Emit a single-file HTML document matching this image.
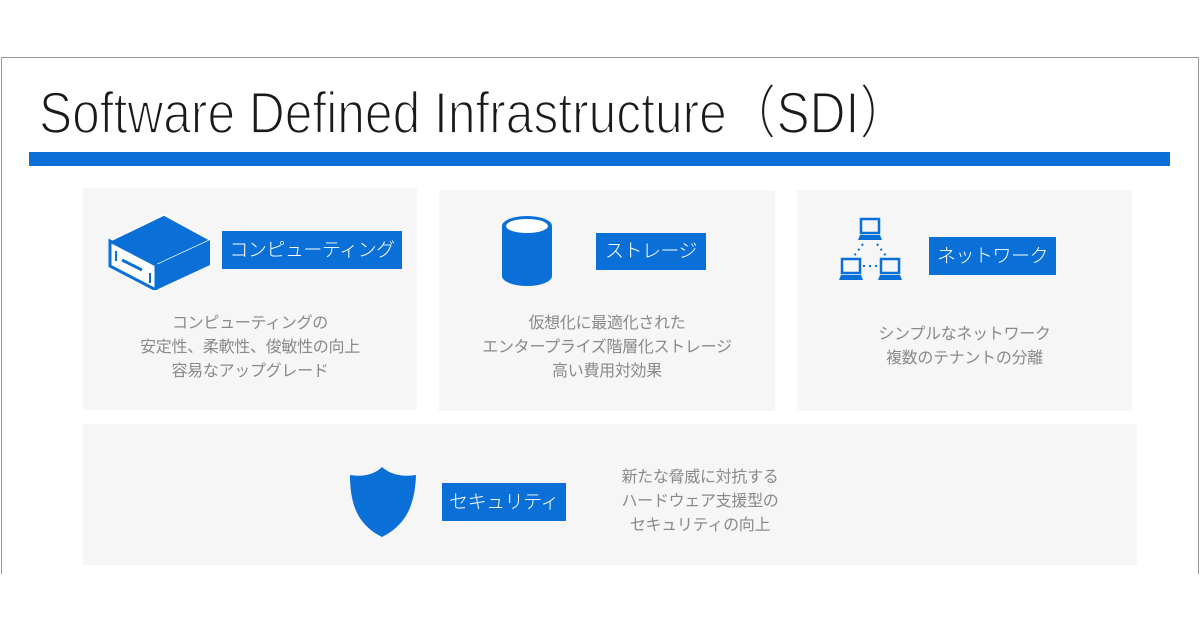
<!DOCTYPE html>
<html><head><meta charset="utf-8">
<style>
*{margin:0;padding:0;box-sizing:border-box}
body{width:1200px;height:630px;background:#fff;position:relative;overflow:hidden;font-family:"Liberation Sans","Noto Sans CJK JP",sans-serif}
.frame{position:absolute;left:1px;top:57px;width:1198px;height:517px;border:1px solid #9a9a9a;border-bottom:none;background:#fff}
.bar{position:absolute;left:29px;top:152px;width:1141px;height:14px;background:#0a6fd6}
.card{position:absolute;background:#f6f6f6}
.lab{position:absolute;background:#0a6fd6;color:#fff;font-size:19px;letter-spacing:-0.5px;line-height:1;display:flex;align-items:center;justify-content:center;white-space:nowrap;font-weight:300}
.desc{position:absolute;color:#8a8a8a;font-size:16px;letter-spacing:-0.3px;line-height:24px;text-align:center;white-space:nowrap}
svg{position:absolute}
</style></head><body>
<div class="frame"></div>
<svg style="left:0;top:60px" width="1200" height="90"><text x="39" y="73" font-family="Liberation Sans, Noto Sans CJK JP, sans-serif" font-size="58" fill="#1a1a1a" textLength="870" lengthAdjust="spacingAndGlyphs" stroke="#fff" stroke-width="1.8">Software Defined Infrastructure（SDI）</text></svg>
<div class="bar"></div>

<div class="card" style="left:83px;top:188px;width:334px;height:222px"></div>
<div class="card" style="left:439px;top:190px;width:336px;height:221px"></div>
<div class="card" style="left:797px;top:190px;width:335px;height:221px"></div>
<div class="card" style="left:83px;top:424px;width:1054px;height:141px"></div>

<svg style="left:106px;top:212px" width="106" height="78" viewBox="0 0 106 78">
<polygon points="4,29 58,3 104,28 50,53" fill="#0a6fd6" stroke="#fff" stroke-width="1.5"/>
<polygon points="50,53 104,28 104,53 50,78" fill="#0a6fd6"/>
<polygon points="4,29 50,53 50,78 4,54" fill="#fff" stroke="#0a6fd6" stroke-width="3"/>
<line x1="16" y1="48" x2="36" y2="58" stroke="#0a6fd6" stroke-width="3"/>
<path d="M10,39 v10 M44,61 v10" stroke="#0a6fd6" stroke-width="2" fill="none"/>
</svg>
<div class="lab" style="left:222px;top:231px;width:180px;height:38px">コンピューティング</div>
<div class="desc" style="left:83px;top:312px;width:334px">コンピューティングの<br>安定性、柔軟性、俊敏性の向上<br>容易なアップグレード</div>

<svg style="left:500px;top:214px" width="54" height="74" viewBox="0 0 54 74">
<path d="M2,12 A25,10 0 0 1 52,12 V62 A25,10 0 0 1 2,62 Z" fill="#0a6fd6"/>
<ellipse cx="27" cy="12" rx="21" ry="7" fill="#fff"/>
</svg>
<div class="lab" style="left:596px;top:233px;width:110px;height:37px">ストレージ</div>
<div class="desc" style="left:439px;top:312px;width:336px">仮想化に最適化された<br>エンタープライズ階層化ストレージ<br>高い費用対効果</div>

<svg style="left:836px;top:216px" width="74" height="70" viewBox="0 0 74 70">
<g fill="none" stroke="#0a6fd6" stroke-width="2.5"><rect x="25" y="3" width="18" height="14"/><rect x="6" y="43" width="18" height="14"/><rect x="45" y="43" width="18" height="14"/></g>
<g fill="#0a6fd6"><polygon points="22,24 46,24 44,19 24,19"/><polygon points="3,64 27,64 25,59 5,59"/><polygon points="42,64 66,64 64,59 44,59"/></g>
<g stroke="#0a6fd6" stroke-width="2" stroke-dasharray="2,4"><line x1="27" y1="28" x2="18" y2="40"/><line x1="41" y1="28" x2="50" y2="40"/><line x1="27" y1="50" x2="43" y2="50"/></g>
</svg>
<div class="lab" style="left:929px;top:237px;width:127px;height:38px">ネットワーク</div>
<div class="desc" style="left:797px;top:323px;width:335px">シンプルなネットワーク<br>複数のテナントの分離</div>

<svg style="left:348px;top:465px" width="70" height="74" viewBox="0 0 70 74">
<path d="M34,2 C26,10 14,12 2,10 C2,40 10,60 34,72 C58,60 67,40 68,10 C55,12 43,10 34,2 Z" fill="#0a6fd6"/>
</svg>
<div class="lab" style="left:442px;top:483px;width:124px;height:38px">セキュリティ</div>
<div class="desc" style="left:600px;top:466px;width:200px">新たな脅威に対抗する<br>ハードウェア支援型の<br>セキュリティの向上</div>
</body></html>
